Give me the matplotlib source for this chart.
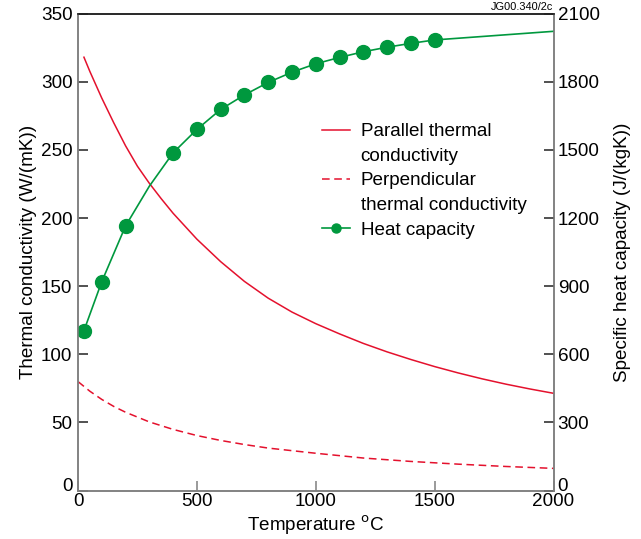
import matplotlib
matplotlib.use("Agg")
import matplotlib.pyplot as plt
from matplotlib.lines import Line2D

plt.rcParams["font.family"] = ["Liberation Sans", "DejaVu Sans"]

# Parallel thermal conductivity, W/(mK)
t_par = [25, 50, 100, 150, 200, 250, 300, 350, 400, 500, 600, 700, 800, 900, 1000,
         1100, 1200, 1300, 1400, 1500, 1600, 1700, 1800, 1900, 2000]
k_par = [318, 307.5, 288, 270, 253, 238, 225.5, 214.2, 203.5, 184.5, 168, 153.5, 141.2,
         131, 122.5, 115, 108, 101.8, 96.2, 91, 86.3, 82, 78.1, 74.6, 71.4]

# Perpendicular thermal conductivity, W/(mK)
t_perp = [0, 50, 100, 150, 200, 300, 400, 500, 600, 700, 800, 1000, 1200, 1400, 1600,
          1800, 2000]
k_perp = [80, 72.9, 66.9, 61.8, 57.5, 50.4, 44.9, 40.4, 36.8, 33.8, 31.2, 27.4, 23.9,
          21.4, 19.4, 17.7, 16.3]

# Specific heat capacity, J/(kgK): measured points and the fitted curve
t_cp_pts = [25, 100, 200, 400, 500, 600, 700, 800, 900, 1000, 1100, 1200, 1300, 1400, 1500]
cp_pts = [704, 920, 1165, 1487, 1590, 1678, 1742, 1797, 1842, 1879, 1907, 1932, 1952, 1969, 1984]
t_cp_curve = [25, 100, 200, 300, 400, 500, 600, 700, 800, 900, 1000, 1100, 1200, 1300,
              1400, 1500, 1750, 2000]
cp_curve = [704, 920, 1165, 1340, 1487, 1590, 1678, 1742, 1797, 1842, 1879, 1907, 1932,
            1952, 1969, 1984, 2003, 2022]

x_ticks = [0, 500, 1000, 1500, 2000]
left_ticks = [0, 50, 100, 150, 200, 250, 300, 350]
right_ticks = [0, 300, 600, 900, 1200, 1500, 1800, 2100]

RED = "#e4112d"
GREEN = "#00983e"
GRAY = "#7f7f7f"
FS = 13.6

fig = plt.figure(figsize=(6.41, 5.39), dpi=100)
ax = fig.add_axes([78 / 641, 1 - 490.6 / 539, 475.5 / 641, 477 / 539])
ax2 = ax.twinx()

ax.plot(t_par, k_par, color=RED, lw=1.1)
ax.plot(t_perp, k_perp, color=RED, lw=1.1, ls=(0, (5, 3)))
ax2.plot(t_cp_curve, cp_curve, color=GREEN, lw=1.2)
ax2.plot(t_cp_pts, cp_pts, ls="none", marker="o", ms=10, color=GREEN)

ax.set_xlim(0, 2000)
ax.set_ylim(0, 350)
ax2.set_ylim(0, 2100)
ax.set_xticks(x_ticks)
ax.set_yticks(left_ticks)
ax2.set_yticks(right_ticks)

for a in (ax, ax2):
    for side in ("left", "right", "bottom"):
        a.spines[side].set_color(GRAY)
        a.spines[side].set_linewidth(1.1)
    a.spines["top"].set_color("#222222")
    a.spines["top"].set_linewidth(1.1)

ax.tick_params(axis="x", direction="in", length=7.5, width=1.1, color=GRAY,
               labelsize=FS, pad=2)
ax.tick_params(axis="y", direction="in", length=7.5, width=1.1, color="#222222",
               labelsize=FS, pad=4)
ax2.tick_params(axis="y", direction="in", length=7.5, width=1.1, color="#222222",
                labelsize=FS, pad=3)

# the zero labels sit on the baseline so they clear the x tick labels
ax.yaxis.get_major_ticks()[0].label1.set_va("baseline")
ax2.yaxis.get_major_ticks()[0].label2.set_va("baseline")

ax.set_xlabel("Temperature $^{\\rm o}$C", fontsize=FS, labelpad=2)
ax.set_ylabel("Thermal conductivity (W/(mK))", fontsize=FS, labelpad=2.5)
ax2.set_ylabel("Specific heat capacity (J/(kgK))", fontsize=FS, labelpad=10)

blank = Line2D([], [], color="none")
handles = [
    Line2D([], [], color=RED, lw=1.1),
    blank,
    Line2D([], [], color=RED, lw=1.1, ls=(0, (5, 3))),
    blank,
    Line2D([], [], color=GREEN, lw=1.2, marker="o", ms=6.5),
]
labels = ["Parallel thermal", "conductivity", "Perpendicular",
          "thermal conductivity", "Heat capacity"]
ax2.legend(handles, labels, loc="upper left",
           bbox_to_anchor=(322 / 641, 1 - 123 / 539), bbox_transform=fig.transFigure,
           frameon=False, fontsize=FS, handlelength=1.47, handletextpad=0.58,
           borderpad=0, borderaxespad=0, labelspacing=0.39)

fig.text(553 / 641, 1 - 7 / 539, "JG00.340/2c", fontsize=7.9, ha="right", va="center")

fig.savefig("out.png", dpi=100)
